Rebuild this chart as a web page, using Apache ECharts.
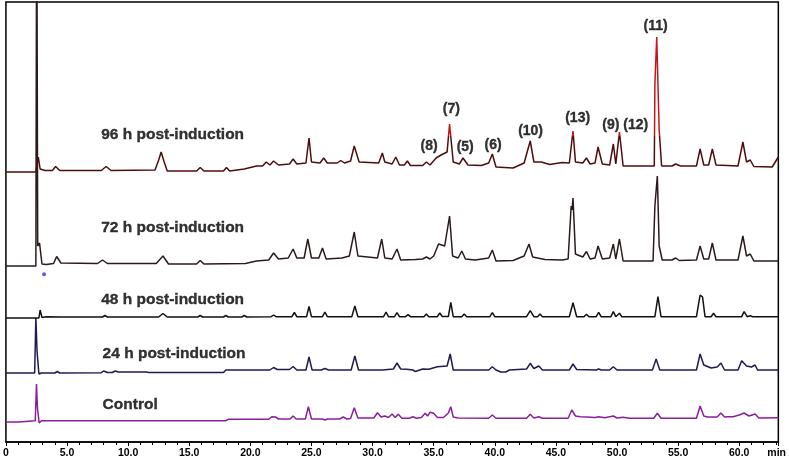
<!DOCTYPE html>
<html>
<head>
<meta charset="utf-8">
<script src="https://cdn.jsdelivr.net/npm/echarts@6/dist/echarts.min.js"></script>
<style>html,body{margin:0;padding:0;background:#fff;}#c{width:789px;height:468px;}</style>
</head>
<body>
<div id="c"></div>
<script>
// ---- data: retention time (min), detector response (relative to each trace baseline) ----
const trace96 = [[0,0],[2.45,0],[2.55,2],[2.65,15],[2.8,3],[3.2,1.5],[3.8,1.5],[4.07,5.5],[4.4,1.5],[7.8,1.5],[8.2,5.5],[8.6,1.5],[12.2,2],[12.5,12],[12.7,20],[12.95,10],[13.2,1],[15.6,1],[15.9,4.5],[16.2,1],[17.8,1],[18.05,4.5],[18.3,1],[19.5,3],[20.5,6],[21.0,6],[21.3,10],[21.6,7],[21.9,11],[22.3,7],[23.2,8],[23.5,13],[23.8,8],[24.55,9],[24.8,34],[25.0,10],[25.7,9],[26.0,14],[26.3,9],[27.1,9],[27.4,11.5],[27.7,9],[28.2,11],[28.5,26],[28.9,10],[30.5,9],[30.8,19],[31.0,10],[31.6,8],[31.9,15],[32.2,7],[32.6,7],[32.85,11],[33.1,6.5],[34.1,6.5],[34.4,10],[34.7,7],[35.2,14],[35.6,17],[36.1,20],[36.3,48],[36.45,46],[36.6,10],[37.1,8],[37.4,14],[37.8,7],[38.9,6.5],[39.5,9],[39.8,18],[40.1,5],[41.5,4],[42.4,9],[42.9,31],[43.2,10],[43.8,10],[44.5,7.5],[45.5,9.5],[46.1,9],[46.4,41],[46.6,10],[47.2,9],[47.5,14],[47.8,8],[48.2,9],[48.45,25],[48.8,8],[49.4,7],[49.7,28],[49.9,8],[50.2,40],[50.5,6],[51.0,6],[53.05,6],[53.1,88],[53.25,135],[53.4,135],[53.45,42],[53.55,42],[53.65,6],[54.5,6],[54.8,8],[55.2,6],[56.5,6],[56.8,23],[57.1,7],[57.5,7],[57.8,23],[58.1,7],[59.9,6],[60.3,30],[60.6,10],[60.9,12],[61.2,5.5],[62.7,5],[63.2,15]];
const trace72 = [[0,0],[2.45,0],[2.52,400],[2.6,20],[2.75,23],[2.95,2],[3.3,1.5],[3.9,2.5],[4.15,9.5],[4.5,3],[7.5,2.5],[7.9,6],[8.3,2.5],[12.3,2.5],[12.85,10],[13.3,2],[15.6,2],[15.9,5.5],[16.2,2],[19.6,2.5],[20.5,5],[21.5,6],[21.9,13],[22.3,7],[23.1,8],[23.5,17],[23.8,8],[24.4,8],[24.7,27],[25.0,8],[25.6,8],[25.9,18],[26.2,7],[27.5,8],[28.1,10],[28.5,34],[28.8,10],[30.4,8],[30.75,27],[31.0,8],[31.6,7],[32.0,17],[32.3,6],[33.5,6.5],[34.1,7],[34.4,9],[34.7,7],[35.0,10],[35.4,22],[35.9,20],[36.3,50],[36.55,10],[37.0,8],[37.3,15],[37.6,7],[38.4,6],[39.5,8],[39.8,16],[40.1,5],[41.5,5.5],[42.4,10],[42.8,22],[43.1,9],[44.1,6.5],[45.5,6],[46.0,7],[46.25,60],[46.32,56],[46.4,68],[46.6,12],[47.2,9],[47.5,14.5],[47.8,7],[48.2,8],[48.45,20],[48.8,7],[49.4,8],[49.7,22],[49.9,7],[50.2,27],[50.5,5],[52.95,5],[53.1,60],[53.3,90],[53.45,20],[53.7,6],[54.5,6],[54.8,8],[55.1,5.5],[56.5,6],[56.8,20],[57.1,7],[57.5,7],[57.8,23],[58.1,6],[59.9,6],[60.3,30],[60.6,10],[60.9,12],[61.2,5],[63.2,5]];
const trace48 = [[0,0],[2.7,0],[2.8,8],[2.95,0.5],[3.3,1.3],[4.5,1],[7.9,1],[8.1,2.5],[8.3,1],[12.5,1],[12.85,4.5],[13.2,1],[15.7,1],[15.9,2.5],[16.1,1],[17.8,1],[18.0,2.5],[18.2,1],[19.3,1],[19.5,2.5],[19.7,1],[21.7,1.3],[21.9,3],[22.1,1.3],[23.4,1.3],[23.6,5.5],[23.8,1.3],[24.6,1.3],[24.8,11.5],[25.0,1.3],[25.9,1.3],[26.1,6],[26.3,1.3],[28.3,1.3],[28.55,12],[28.8,1.3],[30.9,1.3],[31.1,6],[31.3,1.3],[31.8,1.3],[32.0,5.3],[32.2,1.3],[32.7,1.3],[32.9,3.3],[33.1,1.3],[34.2,1.3],[34.4,4],[34.6,1.3],[35.3,1.3],[35.5,5],[35.7,1.5],[36.2,1.5],[36.4,15.7],[36.6,1.3],[37.3,1.3],[37.5,4],[37.7,1.3],[39.6,1.3],[39.8,5.3],[40.0,1.3],[42.6,1.3],[42.9,7.3],[43.2,1.3],[43.5,1.3],[43.7,4],[43.9,1.3],[46.1,1.3],[46.4,15.3],[46.7,1.3],[47.3,1.3],[47.5,3.7],[47.7,1.3],[48.3,1.3],[48.5,5.7],[48.7,1.3],[49.5,1.3],[49.7,6.3],[49.9,1.3],[50.0,1.3],[50.2,4.7],[50.4,1.3],[53.1,1.3],[53.35,21.3],[53.6,1.3],[56.5,1.3],[56.8,23],[57.0,21],[57.2,1.3],[57.7,1.3],[57.9,4.7],[58.1,1.3],[60.2,1.3],[60.4,6.3],[60.65,1.3],[60.9,2.3],[61.1,1.3],[63.2,1.3]];
const trace24 = [[0,0],[2.35,0],[2.45,55],[2.55,21],[2.62,21],[2.7,-1],[2.9,0],[4.0,0],[4.2,1.5],[4.4,0],[7.8,0.3],[8.0,2],[8.3,0.5],[8.7,0.5],[8.95,2],[9.2,1],[11.5,1],[11.7,0.5],[17.8,0.5],[18.0,3],[21.6,3],[21.9,5.5],[22.2,3.5],[23.2,3.5],[23.5,6.5],[23.8,3],[24.55,3],[24.8,16],[25.05,3],[25.8,3],[26.1,4.5],[26.4,3],[28.25,3],[28.55,17],[28.85,3],[30.8,3],[31.7,4],[32.0,10],[32.3,4],[32.8,3.7],[33.3,3],[33.5,1.5],[34.1,4],[34.6,3.7],[35.3,6.3],[36.1,7],[36.35,19],[36.6,3],[39.5,3],[39.8,6.3],[40.1,3],[40.5,1],[40.9,1],[41.2,3],[42.6,4],[42.9,9.7],[43.2,4.5],[43.6,7],[43.9,3],[46.1,3],[46.4,9],[46.7,3.5],[48.3,3],[48.5,4],[48.7,3],[49.4,3],[49.7,6.3],[50.0,3],[52.9,3],[53.2,14],[53.5,3],[56.5,3],[56.8,19],[57.1,8],[57.7,5],[58.2,6],[58.5,10],[58.8,3],[59.9,3],[60.2,12.3],[60.6,7],[61.0,6],[61.3,8],[61.5,3],[63.2,3]];
const traceCtrl = [[0,0],[1.05,0],[1.15,1.3],[2.4,1.3],[2.5,38],[2.58,14],[2.65,14],[2.72,-1],[2.9,1.3],[18.0,1.3],[18.2,2.7],[21.5,2.7],[21.75,5.3],[21.9,4],[22.05,5],[22.3,3],[23.25,3],[23.5,6],[23.75,3],[24.5,3],[24.75,15.3],[25.0,3],[25.9,3],[26.1,2],[26.3,3],[27.3,3],[27.6,5],[27.9,3],[28.2,3.5],[28.5,14.3],[28.8,4],[30.1,4],[30.4,9.3],[30.7,5],[31.0,6],[31.3,4.5],[31.6,8],[31.85,4.5],[32.1,7.7],[32.4,3.7],[33.0,3.7],[33.3,5.3],[33.6,3.7],[34.0,4.5],[34.3,8.7],[34.5,6],[34.7,9.7],[35.0,8.7],[35.3,4.5],[35.8,4.5],[36.2,9],[36.4,15.3],[36.6,5],[37.0,4],[39.5,3.7],[39.8,7],[40.1,3.7],[42.6,3.7],[42.9,7.7],[43.2,4],[43.6,5.3],[43.9,3.7],[46.0,3.7],[46.3,12],[46.6,6],[47.0,5.3],[47.5,5],[48.2,4.5],[48.5,5.3],[49.0,4.3],[49.7,6],[50.0,4],[50.5,4.7],[51.0,3.7],[53.0,3.7],[53.3,8.7],[53.6,3.7],[56.5,3.7],[56.8,16],[57.1,6],[57.4,5],[58.2,5],[58.5,9],[58.8,5],[59.0,5.3],[59.5,5.3],[60.0,7],[60.4,9],[60.8,6],[61.3,8],[61.6,4],[63.2,4.3]];

const traceNames = ['96 h post-induction','72 h post-induction','48 h post-induction','24 h post-induction','Control'];
const traces = [trace96, trace72, trace48, trace24, traceCtrl];
const traceOffsets = [270, 176, 124, 69, 20];
const traceColors = ['#4e0c0c','#2a1b1b','#111111','#1d1b50','#8a1f9e'];
const traceLabelTime = [7.75, 7.75, 7.75, 7.87, 7.87];
const traceLabelLevel = [307, 214, 142, 88, 37];

const peakLabels = ['(8)','(7)','(5)','(6)','(10)','(13)','(9)','(12)','(11)'];
const peakLabelTime = [34.67, 36.48, 37.62, 39.9, 42.97, 46.82, 49.54, 51.57, 53.2];
const peakLabelLevel = [295, 332, 294, 296, 310, 323, 316, 316, 415];

const strayDot = [[3.12, -8.3]]; // blue dot under 72 h trace
const xTickLabels = {0:'0'};

const FONT = '"Liberation Sans", Arial, sans-serif';
const chart = echarts.init(document.getElementById('c'), null, {renderer:'canvas'});

// 96 h trace: tall peak tops appear red in the original (global vertical gradient, hard stop)
const redTop = {type:'linear', x:0, y:0, x2:0, y2:468, global:true, colorStops:[
  {offset:0, color:'#c01818'}, {offset:0.29, color:'#c01818'},
  {offset:0.292, color:'#4e0c0c'}, {offset:1, color:'#4e0c0c'}]};

const series = traces.map((tr, i) => ({
  type:'line', name:traceNames[i], showSymbol:false, symbol:'none', animation:false,
  lineStyle:{color: i === 0 ? redTop : traceColors[i], width:1.5}, clip:true, z:10-i,
  data: tr.map(p => [p[0], p[1] + traceOffsets[i]])
}));

const textStyle = {color:'#000', fontFamily:FONT, fontWeight:'bold', textBorderColor:'#000', textBorderWidth:0.35};
series.push({
  type:'scatter', symbolSize:1, itemStyle:{color:'rgba(0,0,0,0)'}, animation:false, z:20,
  data: traceNames.map((n,i)=>({name:n, value:[traceLabelTime[i], traceLabelLevel[i]]})),
  label:Object.assign({show:true, position:'right', distance:0, formatter:p=>p.name, fontSize:15.5}, textStyle)
});
series.push({
  type:'scatter', symbolSize:1, itemStyle:{color:'rgba(0,0,0,0)'}, animation:false, z:20,
  data: peakLabels.map((n,i)=>({name:n, value:[peakLabelTime[i], peakLabelLevel[i]]})),
  label:Object.assign({show:true, position:[0,0], align:'center', verticalAlign:'middle', formatter:p=>p.name, fontSize:14}, textStyle)
});
series.push({
  type:'scatter', symbolSize:4, itemStyle:{color:'#3a3ad0'}, animation:false, z:20,
  data: strayDot.map(p=>[p[0], p[1] + traceOffsets[1]])
});

chart.setOption({
  animation:false,
  backgroundColor:'#fff',
  grid:{left:5, right:8, top:2, bottom:26, show:true, borderColor:'#000', borderWidth:1.5, backgroundColor:'#fff'},
  xAxis:{
    type:'value', min:0, max:63.2, interval:5,
    name:'min', nameLocation:'end', nameGap:-11,
    nameTextStyle:{fontFamily:FONT, fontWeight:'bold', fontSize:10.5, color:'#000', verticalAlign:'top', padding:[6,0,0,0]},
    axisLine:{show:true, lineStyle:{color:'#000', width:1.5}},
    axisTick:{show:true, length:4, lineStyle:{color:'#000', width:1}},
    minorTick:{show:true, splitNumber:5, length:3, lineStyle:{color:'#000', width:1}},
    splitLine:{show:false},
    axisLabel:{fontFamily:FONT, fontWeight:'bold', fontSize:10.5, color:'#000', margin:6,
      showMaxLabel:false,
      formatter:v=> (xTickLabels[v] !== undefined ? xTickLabels[v] : v.toFixed(1))}
  },
  yAxis:{type:'value', min:0, max:440, show:false, splitLine:{show:false}},
  series: series
});
</script>
</body>
</html>
